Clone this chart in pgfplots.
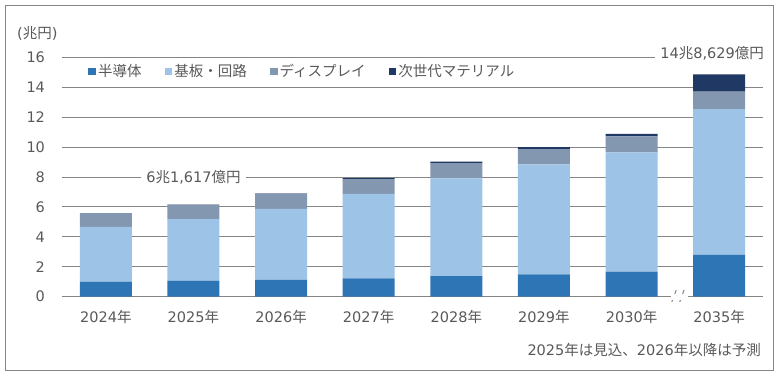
\documentclass[border=0pt]{standalone}
\usepackage{fontspec}
\usepackage{pgfplots}
\pgfplotsset{compat=1.18}
\setmainfont{DejaVu Sans}
\newfontfamily\jp{Noto Sans CJK JP}
\definecolor{semi}{HTML}{2E75B6}
\definecolor{subs}{HTML}{9DC3E6}
\definecolor{disp}{HTML}{8497B0}
\definecolor{mat}{HTML}{203864}
\definecolor{txt}{HTML}{595959}
\definecolor{gridc}{HTML}{858585}
\begin{document}
\fontsize{14.5}{17}\selectfont
\begin{tikzpicture}
\useasboundingbox (0pt,0pt) rectangle (779pt,377pt);
\draw[gridc, line width=0.9pt] (5pt,7pt) rectangle (773pt,372pt);
\node[anchor=west, inner sep=0pt, txt] at (17pt,344pt) {({\jp 兆円})};
\node[anchor=east, inner sep=0pt, txt] at (761pt,27pt) {2025{\jp 年は見込、}2026{\jp 年以降は予測}};
\begin{axis}[
  at={(62pt,80.3pt)}, anchor=south west,
  scale only axis, width=701pt, height=239.4pt,
  xmin=-0.5, xmax=7.5, ymin=0, ymax=16,
  ybar stacked, bar width=0.594,
  axis line style={draw=none},
  ymajorgrids, grid style={gridc, line width=0.9pt},
  major tick length=0pt,
  xtick={0,...,7},
  xticklabels={2024{\jp 年},2025{\jp 年},2026{\jp 年},2027{\jp 年},2028{\jp 年},2029{\jp 年},2030{\jp 年},2035{\jp 年}},
  ytick={0,2,...,16},
  tick label style={text=txt, font=\fontsize{14.5}{17}\selectfont},
  /pgf/number format/assume math mode=true,
  yticklabel style={xshift=-12pt},
  xticklabel style={yshift=-9pt},
  clip=false,
  legend columns=4,
  legend cell align=left,
  legend style={at={(0.0371,0.94)}, anchor=west, draw=none, fill=none, inner sep=0pt,
    text=txt, font=\fontsize{14.5}{17}\selectfont,
    /tikz/every even column/.append style={column sep=21pt}},
  legend image code/.code={\fill[#1] (0pt,-3.8pt) rectangle (7.8pt,3.8pt);},
]
\addplot[fill=semi, draw=none] coordinates {(0,1.00) (1,1.07) (2,1.13) (3,1.22) (4,1.38) (5,1.49) (6,1.67) (7,2.80)};
\addlegendentry{\jp 半導体}
\addplot[fill=subs, draw=none] coordinates {(0,3.67) (1,4.11) (2,4.74) (3,5.65) (4,6.53) (5,7.36) (6,7.98) (7,9.73)};
\addlegendentry{\jp 基板・回路}
\addplot[fill=disp, draw=none] coordinates {(0,0.91) (1,0.95) (2,1.04) (3,0.98) (4,1.02) (5,1.02) (6,1.06) (7,1.18)};
\addlegendentry{\jp ディスプレイ}
\addplot[fill=mat, draw=none] coordinates {(0,0) (1,0.03) (2,0.01) (3,0.08) (4,0.09) (5,0.13) (6,0.18) (7,1.15)};
\addlegendentry{\jp 次世代マテリアル}
\fill[white] (axis cs:6.45,-0.2) rectangle (axis cs:6.64,0.2);
\draw[gridc, line width=1pt] (axis cs:6.46,-0.35) -- (axis cs:6.51,0.45);
\draw[gridc, line width=1pt] (axis cs:6.55,-0.35) -- (axis cs:6.60,0.45);
\node[fill=white, text=txt, inner xsep=5pt, inner ysep=2pt] at (axis cs:1,8) {6{\jp 兆}1,617{\jp 億円}};
\node[fill=white, text=txt, inner xsep=5pt, inner ysep=2pt, yshift=4pt] at (axis cs:6.92,16) {14{\jp 兆}8,629{\jp 億円}};
\end{axis}
\end{tikzpicture}
\end{document}
